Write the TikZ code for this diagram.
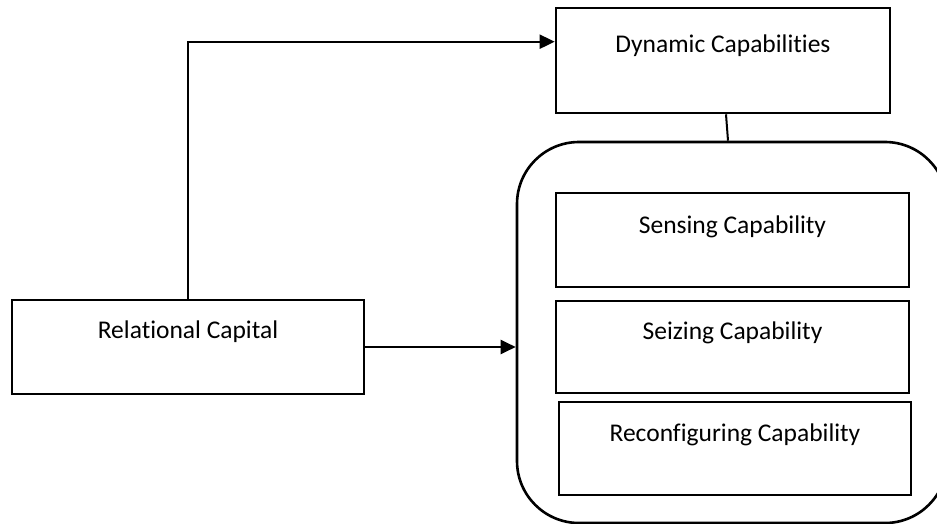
\documentclass[tikz,border=0pt]{standalone}
\usepackage{fontspec}
\setmainfont[Ligatures=NoCommon]{Carlito}
\usetikzlibrary{arrows.meta}
\begin{document}
\begin{tikzpicture}[x=1pt,y=-1pt,
  box/.style={draw, line width=2.6pt, rectangle, inner sep=0pt},
  lab/.style={anchor=base, inner sep=0pt, font=\fontsize{25.5}{30}\selectfont},
  arr/.style={line width=2pt, -{Triangle[length=15pt,width=14pt]}},
  link/.style={line width=2pt}]
\useasboundingbox (0,0) rectangle (937,524);
\clip (0,0) rectangle (937,524);

% outer group holding the three capabilities
\node[box, rounded corners=62pt, minimum width=430pt, minimum height=381pt] (grp) at (732,332.5) {};

% boxes
\node[box, minimum width=334pt, minimum height=105pt] (dyn) at (723,60.5) {};
\node[box, minimum width=353pt, minimum height=94pt]  (sen) at (732.5,240) {};
\node[box, minimum width=353pt, minimum height=92pt]  (sei) at (732.5,347) {};
\node[box, minimum width=352pt, minimum height=93pt]  (rec) at (735,448.5) {};
\node[box, minimum width=352pt, minimum height=94pt]  (rel) at (188,347) {};

% texts
\node[lab] (tdyn) at ([yshift=-46pt]dyn.north) {Dynamic Capabilities};
\node[lab] (tsen) at ([yshift=-42pt]sen.north) {Sensing Capability};
\node[lab] (tsei) at ([yshift=-40pt]sei.north) {Seizing Capability};
\node[lab] (trec) at ([yshift=-41pt]rec.north) {Reconfiguring Capability};
\node[lab] (trel) at ([yshift=-40pt]rel.north) {Relational Capital};

% connectors
\draw[arr] (rel.north) |- ([yshift=-35pt]dyn.north west);
\draw[arr] (rel.east) -- (rel.east -| grp.west);
\draw[link] ([xshift=3pt]dyn.south) -- ([xshift=-4pt]grp.north);
\end{tikzpicture}
\end{document}
